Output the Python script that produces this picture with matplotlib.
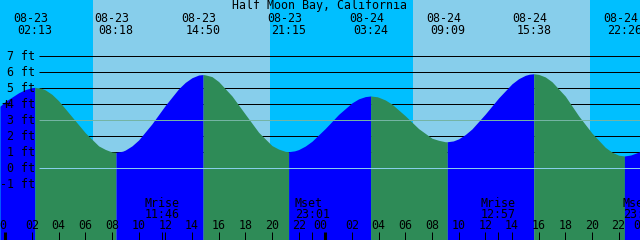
import matplotlib
matplotlib.use('Agg')
import matplotlib.pyplot as plt
import numpy as np

# ---------------- data ----------------
title = "Half Moon Bay, California"
# hours counted from 08-23 00:00
extreme_times = [2.217, 8.300, 14.833, 21.250, 27.400, 33.150, 39.633, 46.433]
extreme_heights = [5.06, 1.00, 5.86, 1.04, 4.52, 1.66, 5.91, 0.77]
extreme_dates = ["08-23", "08-23", "08-23", "08-23", "08-24", "08-24", "08-24", "08-24"]
extreme_labels = ["02:13", "08:18", "14:50", "21:15", "03:24", "09:09", "15:38", "22:26"]

# tide heights (ft)
sample_times = [-0.4, 0, 1, 1.5, 2, 2.7, 3, 3.5, 4, 5, 6, 7, 7.5, 8, 8.8, 9, 9.5, 10, 11,
                12, 13, 13.5, 14, 14.5, 15, 15.5, 16, 17, 18, 19, 20, 20.5, 21, 21.7, 22,
                22.5, 23, 24, 25, 26, 26.5, 27, 27.9, 28, 28.5, 29, 30, 31, 32, 32.5, 33,
                33.6, 34, 34.5, 35, 36, 37, 38, 38.5, 39, 39.3, 40, 40.5, 41, 42, 43, 44,
                45, 45.5, 46, 46.9, 47, 47.6]
sample_heights = [3.88, 4.18, 4.72, 4.92, 5.04, 5.00, 4.90, 4.62, 4.22, 3.22, 2.22, 1.40,
                  1.18, 1.02, 1.07, 1.14, 1.40, 1.77, 2.78, 3.93, 4.97, 5.37, 5.66, 5.83,
                  5.84, 5.73, 5.42, 4.52, 3.38, 2.25, 1.42, 1.20, 1.06, 1.09, 1.17, 1.39,
                  1.69, 2.49, 3.37, 4.09, 4.34, 4.48, 4.47, 4.44, 4.27, 4.01, 3.28, 2.48,
                  1.88, 1.75, 1.66, 1.71, 1.84, 2.11, 2.46, 3.39, 4.40, 5.28, 5.60, 5.81,
                  5.88, 5.87, 5.71, 5.41, 4.51, 3.28, 2.20, 1.31, 1.01, 0.82, 0.83, 0.86,
                  1.04]

sunrise_times = [6.58, 30.58]
sunset_times = [19.85, 43.85]

moon_times = [11.767, 23.017, 36.950, 47.617]
moon_kinds = ["Mrise", "Mset", "Mrise", "Mset"]
moon_labels = ["11:46", "23:01", "12:57", "23:37"]

ft_levels = [-1, 0, 1, 2, 3, 4, 5, 6, 7]
grid_levels = [1, 2, 4, 5, 6, 7]
msl_level = 3
datum_level = 0

# ---------------- geometry ----------------
W, H = 640, 240
X0, PXH = 5.3, 13.333   # px of 00:00, px per hour
Y0, PXF = 168.3, 16.0   # px of 0 ft, px per foot


def hx(px):
    return (px - X0) / PXH


def fy(py):
    return (Y0 - py) / PXF


NIGHT = "#00BFFF"
DAY = "#87CEEB"
RISE = "#0000FF"
FALL = "#2E8B57"
MSL = "#74B4A4"
DATUM = "#87CEEB"
FONT = "DejaVu Sans Mono"
FS = 8.4
LW = 0.72

fig = plt.figure(figsize=(6.4, 2.4), dpi=100)
ax = fig.add_axes([0, 0, 1, 1])
xmin, xmax = hx(0), hx(W)
ymin, ymax = fy(H), fy(0)
ax.set_xlim(xmin, xmax)
ax.set_ylim(ymin, ymax)
ax.axis('off')

# background day / night
ax.axvspan(xmin, xmax, color=NIGHT, lw=0, zorder=0)
for sr, ss in zip(sunrise_times, sunset_times):
    ax.axvspan(sr, ss, color=DAY, lw=0, zorder=0.1)

# grid lines (hidden behind tide fill)
ax.hlines(grid_levels, hx(39), xmax, colors='black', lw=LW, zorder=1)

# tide curve
t = np.array(list(sample_times) + list(extreme_times), dtype=float)
h = np.array(list(sample_heights) + list(extreme_heights), dtype=float)
order = np.argsort(t)
t, h = t[order], h[order]
bounds = [t[0]] + list(extreme_times) + [t[-1]]
for i in range(len(bounds) - 1):
    m = (t >= bounds[i] - 1e-9) & (t <= bounds[i + 1] + 1e-9)
    col = RISE if i % 2 == 0 else FALL
    ax.fill_between(t[m], h[m], ymin, color=col, lw=0, zorder=2)

# MSL and datum lines over fill
ax.hlines([msl_level], hx(39), xmax, colors=MSL, lw=LW, zorder=3)
ax.hlines([datum_level], hx(39), xmax, colors=DATUM, lw=LW, zorder=3)

txt = dict(family=FONT, fontsize=FS, color='black', zorder=5)

# title
ax.text(hx(320), fy(9), title, ha='center', va='baseline', **txt)

# extreme labels
for et, d, lab in zip(extreme_times, extreme_dates, extreme_labels):
    ax.text(et - 4 / PXH, fy(21.7), d, ha='center', va='baseline', **txt)
    ax.text(et, fy(34), lab, ha='center', va='baseline', **txt)

# y labels
for lv in ft_levels:
    ypx = Y0 - lv * PXF
    ax.text(hx(35.5), fy(ypx + 4), f"{lv} ft", ha='right', va='baseline', **txt)
ax.text(hx(6), fy(Y0 - 4 * PXF + 4.2), "+", ha='center', va='baseline',
        family=FONT, fontsize=11, color='black', zorder=6)

# moon events
for mt, k, lab in zip(moon_times, moon_kinds, moon_labels):
    ax.text(mt - 17.5 / PXH, fy(206.7), k, ha='left', va='baseline', **txt)
    ax.text(mt - 17.5 / PXH, fy(218.3), lab, ha='left', va='baseline', **txt)
ax.vlines(moon_times, fy(240), fy(232), colors='black', lw=LW, zorder=5)

# hour ticks and labels
for day in range(3):
    for hr in range(0, 24, 2):
        tt = day * 24 + hr
        if tt < xmin - 1 or tt > xmax + 1:
            continue
        off = -5 / PXH if hr == 0 else 0
        ax.text(tt + off, fy(229.3), f"{hr:02d}", ha='center', va='baseline', **txt)
        if xmin <= tt <= xmax:
            ax.vlines([tt], fy(240), fy(232), colors='black',
                      lw=2.2 if hr == 0 else LW, zorder=5)

fig.savefig("out.png", dpi=100)
